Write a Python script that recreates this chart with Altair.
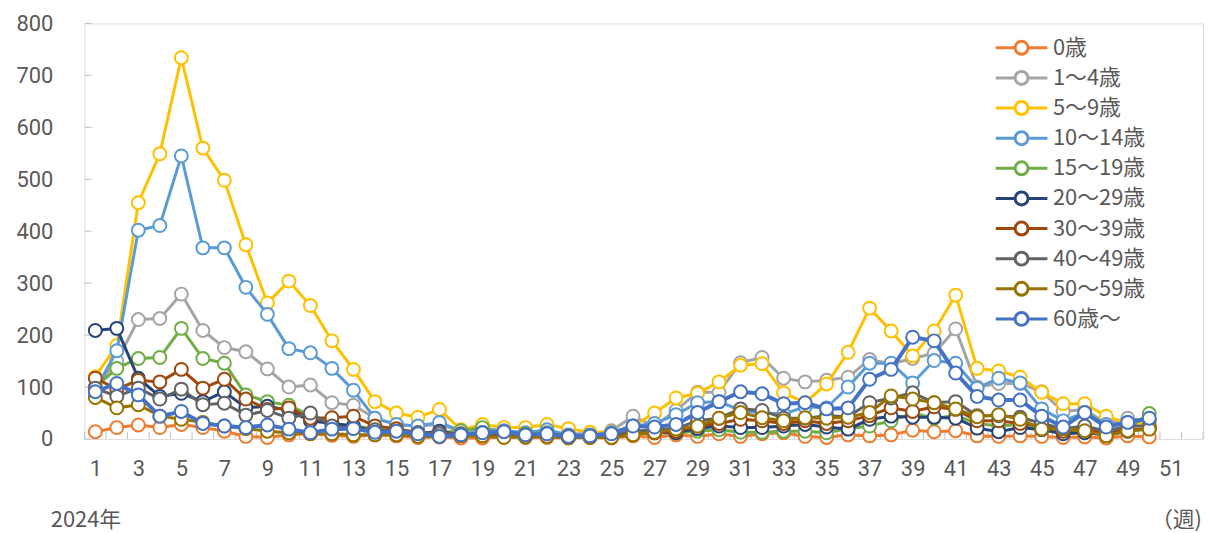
import altair as alt
import pandas as pd

# ---------------- data ----------------
weeks = list(range(1, 51))
tick_weeks = list(range(1, 52, 2))
all_weeks = list(range(1, 54))
y_ticks = list(range(0, 801, 100))

series_names = ["0歳", "1～4歳", "5～9歳", "10～14歳", "15～19歳",
                "20～29歳", "30～39歳", "40～49歳", "50～59歳", "60歳～"]
series_colors = ["#ED7D31", "#A5A5A5", "#FFC000", "#5B9BD5", "#70AD47",
                 "#264478", "#9E480E", "#636363", "#997300", "#4472C4"]

age_0 = [14, 22, 27, 22, 28, 22, 15, 5, 3, 8,
         10, 7, 5, 8, 6, 3, 4, 2, 2, 4,
         3, 3, 2, 3, 2, 6, 3, 8, 5, 10,
         5, 10, 12, 5, 3, 8, 6, 8, 17, 14,
         16, 6, 5, 6, 5, 3, 4, 2, 6, 4]
age_1_4 = [100, 150, 230, 232, 279, 209, 176, 168, 135, 100,
           104, 70, 65, 40, 28, 25, 28, 15, 20, 12,
           15, 14, 10, 10, 16, 44, 25, 55, 90, 90,
           147, 157, 117, 110, 113, 119, 153, 145, 155, 165,
           212, 100, 107, 107, 91, 53, 57, 30, 40, 35]
age_5_9 = [120, 180, 455, 549, 734, 560, 498, 374, 262, 304,
           257, 189, 134, 72, 50, 42, 57, 18, 28, 22,
           22, 28, 20, 13, 13, 25, 50, 79, 88, 110,
           142, 145, 89, 70, 106, 167, 252, 208, 160, 208,
           277, 136, 131, 119, 90, 68, 68, 44, 30, 32]
age_10_14 = [94, 170, 402, 411, 545, 368, 368, 292, 240, 174,
             166, 136, 94, 40, 28, 25, 32, 15, 20, 16,
             12, 18, 8, 8, 12, 25, 30, 47, 70, 72,
             55, 50, 48, 62, 60, 100, 146, 146, 108, 151,
             146, 98, 117, 108, 58, 35, 51, 28, 32, 38]
age_15_19 = [100, 136, 155, 157, 213, 155, 146, 85, 72, 65,
             45, 30, 25, 20, 15, 10, 12, 16, 22, 8,
             10, 12, 5, 4, 5, 10, 15, 12, 15, 18,
             13, 13, 15, 15, 12, 20, 25, 35, 50, 40,
             45, 30, 25, 28, 20, 15, 18, 12, 20, 49]
age_20_29 = [209, 213, 117, 82, 88, 72, 91, 60, 63, 55,
             35, 30, 25, 15, 12, 10, 15, 8, 10, 6,
             5, 6, 3, 4, 6, 10, 12, 12, 20, 25,
             22, 22, 25, 28, 23, 19, 38, 44, 42, 42,
             40, 21, 14, 22, 18, 10, 12, 8, 15, 20]
age_30_39 = [117, 96, 113, 110, 134, 98, 115, 77, 57, 60,
             40, 41, 44, 25, 20, 12, 10, 8, 12, 8,
             6, 8, 3, 5, 6, 10, 12, 15, 25, 30,
             38, 35, 30, 35, 30, 35, 45, 60, 53, 62,
             57, 35, 35, 30, 25, 15, 20, 10, 18, 20]
age_40_49 = [98, 82, 98, 77, 96, 66, 69, 46, 55, 40,
             50, 25, 20, 18, 15, 12, 10, 10, 12, 10,
             8, 10, 6, 6, 8, 15, 18, 20, 35, 40,
             58, 55, 40, 40, 45, 43, 70, 79, 89, 70,
             72, 45, 45, 42, 30, 20, 25, 15, 25, 25]
age_50_59 = [80, 60, 66, 44, 38, 32, 25, 20, 15, 12,
             10, 10, 8, 8, 8, 5, 5, 6, 6, 3,
             4, 5, 3, 3, 3, 8, 13, 19, 25, 40,
             51, 41, 35, 41, 40, 42, 51, 83, 77, 70,
             58, 43, 47, 38, 19, 20, 16, 6, 16, 19]
age_60 = [91, 107, 85, 44, 53, 30, 25, 22, 27, 19,
          12, 19, 20, 13, 15, 10, 5, 8, 12, 14,
          8, 10, 5, 6, 10, 25, 23, 28, 51, 72,
          91, 87, 68, 70, 58, 60, 115, 134, 196, 189,
          127, 82, 75, 75, 44, 23, 51, 23, 32, 40]

series_values = [age_0, age_1_4, age_5_9, age_10_14, age_15_19,
                 age_20_29, age_30_39, age_40_49, age_50_59, age_60]

rows = []
for name, vals in zip(series_names, series_values):
    for w, v in zip(weeks, vals):
        rows.append({"series": name, "week": w, "value": v})
df = pd.DataFrame(rows)

# ---------------- style ----------------
FONT = "Noto Sans CJK JP"
NUM_FONT = "Roboto"
TXT = "#595959"
GRID = "#BFBFBF"
W, H = 1125, 418

# legend glyph: line with an open circle (unit = 10 px for symbolSize 400)
LEGEND_PATH = ("M-2.6,0L-0.65,0M0.65,0L2.6,0"
               "M0.65,0A0.65,0.65,0,1,1,-0.65,0A0.65,0.65,0,1,1,0.65,0Z")

stroke_scale = alt.Scale(domain=series_names, range=series_colors)
legend = alt.Legend(
    title=None, orient="none", legendX=931, legendY=13,
    symbolType=LEGEND_PATH, symbolSize=400, symbolStrokeWidth=3,
    symbolFillColor="white", symbolOpacity=1,
    labelFontSize=22, labelColor=TXT, labelFont=FONT, labelLimit=300,
    rowPadding=5.3, labelOffset=20, padding=0,
)

x_scale = alt.Scale(domain=[0.5, 52.5], nice=False, zero=False)
y_scale = alt.Scale(domain=[0, 800], nice=False)
x_axis = alt.Axis(values=tick_weeks, ticks=False, domain=False, grid=False,
                  title=None, labelFontSize=22, labelFont=NUM_FONT,
                  labelColor=TXT, labelPadding=20, labelFlush=False,
                  format="d")
y_axis = alt.Axis(values=y_ticks, ticks=False, domain=False, grid=False,
                  title=None, labelFontSize=22, labelFont=NUM_FONT,
                  labelColor=TXT, labelPadding=32, format="d")

x_enc = alt.X("week:Q", scale=x_scale, axis=x_axis)
y_enc = alt.Y("value:Q", scale=y_scale, axis=y_axis)
stroke_enc = alt.Stroke("series:N", scale=stroke_scale, legend=legend)

layers = []
for name in series_names:
    sw = 4 if name == "60歳～" else 3
    base = alt.Chart().transform_filter(alt.datum.series == name)
    layers.append(base.mark_line(strokeWidth=sw).encode(
        x=x_enc, y=y_enc, stroke=stroke_enc))
    layers.append(base.mark_point(shape="circle", size=169, strokeWidth=2,
                                  filled=False, opacity=1).encode(
        x=x_enc, y=y_enc, stroke=stroke_enc, fill=alt.value("white")))

# inward tick marks
xtick_df = pd.DataFrame({"week": [w - 0.5 for w in all_weeks]})
xticks = alt.Chart(xtick_df).mark_rule(color=GRID, strokeWidth=1).encode(
    x=alt.X("week:Q", scale=x_scale, axis=x_axis),
    y=alt.value(H - 7), y2=alt.value(H))
ytick_df = pd.DataFrame({"value": y_ticks})
yticks = alt.Chart(ytick_df).mark_rule(color=GRID, strokeWidth=1).encode(
    y=alt.Y("value:Q", scale=y_scale, axis=y_axis),
    x=alt.value(0), x2=alt.value(7))

year_df = pd.DataFrame({"label": ["2024年"]})
year_text = alt.Chart(year_df).mark_text(
    align="left", baseline="middle", fontSize=22, font=FONT, color=TXT
).encode(x=alt.value(-34), y=alt.value(499), text="label:N")
unit_df = pd.DataFrame({"label": ["（週)"]})
unit_text = alt.Chart(unit_df).mark_text(
    align="right", baseline="middle", fontSize=22, font=FONT, color=TXT
).encode(x=alt.value(1124), y=alt.value(499), text="label:N")

chart = alt.layer(xticks, yticks, *layers, year_text, unit_text, data=df).properties(
    width=W, height=H,
    padding={"left": 77, "top": 14, "right": 1, "bottom": 93},
    autosize=alt.AutoSizeParams(type="none"),
).configure_view(stroke=GRID, strokeWidth=2).configure(background="white")

chart.save("out.html", embed_options={"renderer": "svg", "actions": False})
